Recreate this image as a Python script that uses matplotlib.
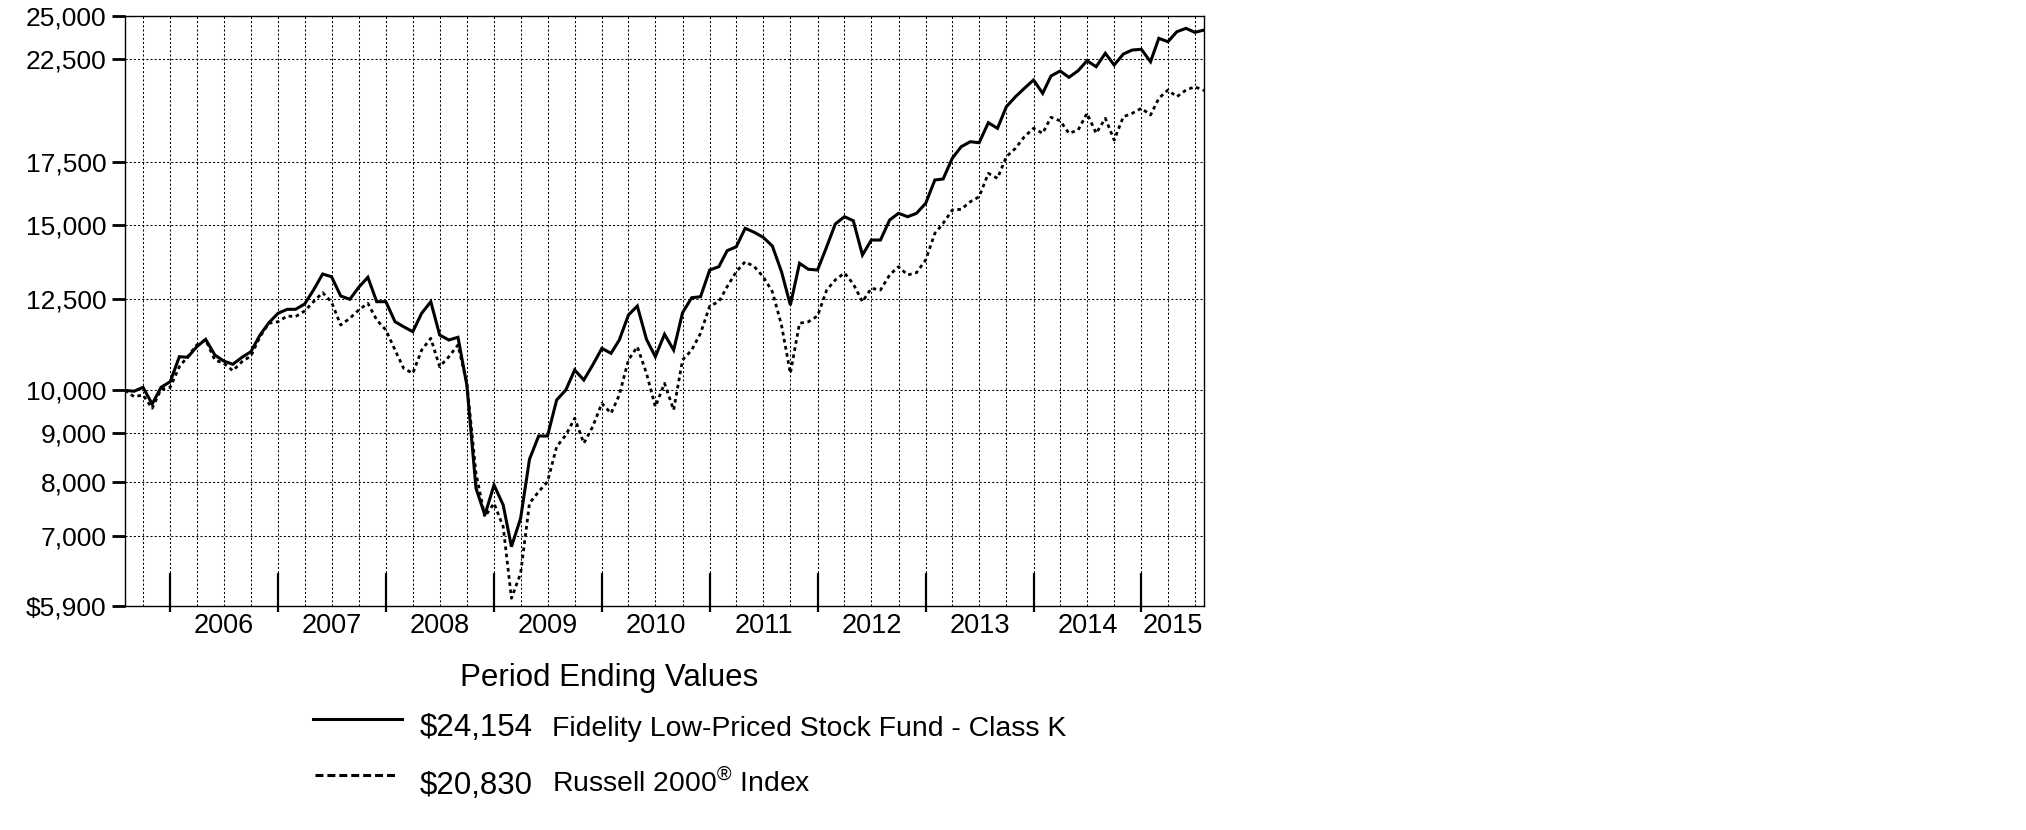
import numpy as np
import pandas as pd
import matplotlib
matplotlib.use("Agg")
import matplotlib.pyplot as plt
import matplotlib.dates as mdates
import matplotlib.transforms as mtransforms
from matplotlib.lines import Line2D
from matplotlib.ticker import FixedLocator, NullLocator, FixedFormatter, NullFormatter

plt.rcParams['font.family'] = ['Liberation Sans', 'DejaVu Sans']
plt.rcParams['mathtext.fontset'] = 'custom'
plt.rcParams['mathtext.rm'] = 'Liberation Sans'

# ---------------- data ----------------
months = pd.period_range('2005-07', '2015-07', freq='M').to_timestamp(how='end').normalize()

fund_values = [
    10000, 9980, 10076, 9673, 10076, 10215, 10860, 10844, 11129, 11332,
    10905, 10746, 10660, 10844, 10993, 11452, 11802, 12077, 12195, 12195,
    12354, 12785, 13296, 13208, 12600, 12497, 12870, 13189, 12425, 12425,
    11830, 11687, 11545, 12077, 12425, 11452, 11313, 11388, 10133, 7870,
    7372, 7934, 7554, 6822, 7313, 8448, 8944, 8944, 9768, 10010,
    10512, 10258, 10641, 11084, 10950, 11313, 12027, 12293, 11332, 10860,
    11472, 11038, 12093, 12546, 12577, 13427, 13536, 14076, 14214, 14869,
    14724, 14545, 14239, 13371, 12323, 13649, 13450, 13427, 14214, 15026,
    15297, 15148, 13929, 14449, 14449, 15174, 15425, 15297, 15425, 15807,
    16735, 16776, 17648, 18155, 18379, 18334, 19254, 18992, 20023, 20518,
    20945, 21375, 20690, 21585, 21851, 21516, 21867, 22409, 22082, 22819,
    22174, 22780, 23003, 23043, 22354, 23671, 23475, 24056, 24256, 24021,
    24154,
]

index_values = [
    10000, 9847, 9888, 9572, 10027, 10076, 10597, 10860, 11176, 11313,
    10773, 10686, 10494, 10728, 10878, 11405, 11786, 11830, 11998, 11978,
    12144, 12425, 12703, 12415, 11734, 11931, 12175, 12376, 11882, 11593,
    11038, 10556, 10427, 11038, 11360, 10597, 10860, 11176, 10183, 8163,
    7341, 7586, 7164, 6013, 6390, 7586, 7804, 7998, 8712, 8965,
    9340, 8786, 9150, 9689, 9455, 9888, 10773, 11129, 10427, 9609,
    10175, 9532, 10773, 11038, 11500, 12293, 12425, 12890, 13371, 13703,
    13536, 13208, 12734, 11734, 10427, 11786, 11830, 11998, 12785, 13103,
    13330, 12975, 12425, 12840, 12785, 13265, 13536, 13265, 13340, 13760,
    14688, 15051, 15550, 15577, 15869, 16064, 17011, 16804, 17717, 18085,
    18605, 18992, 18761, 19510, 19348, 18761, 18913, 19702, 18761, 19462,
    18455, 19538, 19702, 19945, 19620, 20437, 20857, 20518, 20857, 21026,
    20830,
]

y_ticks = [5900, 7000, 8000, 9000, 10000, 12500, 15000, 17500, 22500, 25000]
y_tick_labels = ['$5,900', '7,000', '8,000', '9,000', '10,000', '12,500',
                 '15,000', '17,500', '22,500', '25,000']
years = list(range(2006, 2016))
year_labels = [str(y) for y in years]

legend_title = 'Period Ending Values'
fund_end_label = '$24,154'
index_end_label = '$20,830'
fund_name = 'Fidelity Low-Priced Stock Fund - Class K'
index_name = 'Russell 2000$^{\u00ae}$ Index'

# ---------------- figure ----------------
W, H = 2026, 830
fig = plt.figure(figsize=(W / 100, H / 100), dpi=100)
fig.patch.set_facecolor('white')

L, R, T, B = 125, 1204, 16, 606
ax = fig.add_axes([L / W, 1 - B / H, (R - L) / W, (B - T) / H])

x = mdates.date2num(months.to_pydatetime())
ax.plot(x, fund_values, color='black', lw=2.2, solid_joinstyle='miter', zorder=4)
ax.plot(x, index_values, color='black', lw=2.0, linestyle=(0, (1.3, 1.3)), zorder=3)

ax.set_yscale('log')
ax.set_ylim(5900, 25000)
ax.set_xlim(x[0], x[-1])

# y axis
ax.yaxis.set_major_locator(FixedLocator(y_ticks))
ax.yaxis.set_major_formatter(FixedFormatter(y_tick_labels))
ax.yaxis.set_minor_locator(NullLocator())
ax.yaxis.set_minor_formatter(NullFormatter())
ax.tick_params(axis='y', which='major', direction='out', length=9.6, width=2.0,
               pad=3.6, labelsize=19, colors='black')

# x axis: quarter-end gridlines (major, no tick marks), year labels (minor)
quarter_ends = x[2::3]
year_ends = mdates.date2num([pd.Timestamp(f'{y - 1}-12-31').to_pydatetime() for y in years])
year_starts = np.maximum(year_ends, x[0])
year_stops = np.minimum(year_ends + 365, x[-1])
label_pos = (year_starts + year_stops) / 2
ax.xaxis.set_major_locator(FixedLocator(quarter_ends))
ax.xaxis.set_major_formatter(NullFormatter())
ax.xaxis.set_minor_locator(FixedLocator(label_pos))
ax.xaxis.set_minor_formatter(FixedFormatter(year_labels))
ax.tick_params(axis='x', which='major', length=0)
ax.tick_params(axis='x', which='minor', length=0, pad=5, labelsize=19.5, colors='black')

ax.grid(True, which='major', axis='both', color='black', lw=0.75,
        linestyle=(0, (2, 2)), zorder=1)
ax.set_axisbelow(True)

# year boundary tick marks (long inward, short outward)
blend = mtransforms.blended_transform_factory(ax.transData, ax.transAxes)
ax.vlines(year_ends, -6 / (B - T), 33 / (B - T), transform=blend, color='black',
          lw=1.6, clip_on=False, zorder=5)

for s in ax.spines.values():
    s.set_linewidth(1.0)
    s.set_color('black')

# ---------------- legend block ----------------
def fx(px):
    return px / W

def fy(py):
    return 1 - py / H

fig.text(fx(609), fy(686), legend_title, ha='center', va='baseline', fontsize=22.5)

fig.add_artist(Line2D([fx(313), fx(402)], [fy(719), fy(719)], transform=fig.transFigure,
                      color='black', lw=2.2))
fig.add_artist(Line2D([fx(315), fx(397)], [fy(775), fy(775)], transform=fig.transFigure,
                      color='black', lw=2.2, linestyle=(0, (2.6, 1.3))))

fig.text(fx(420), fy(736), fund_end_label, ha='left', va='baseline', fontsize=22.5)
fig.text(fx(552), fy(735.5), fund_name, ha='left', va='baseline', fontsize=20.4)
fig.text(fx(420), fy(794), index_end_label, ha='left', va='baseline', fontsize=22.5)
fig.text(fx(552), fy(792), index_name, ha='left', va='baseline', fontsize=20.4)

fig.savefig('out.png', dpi=100, facecolor='white')
